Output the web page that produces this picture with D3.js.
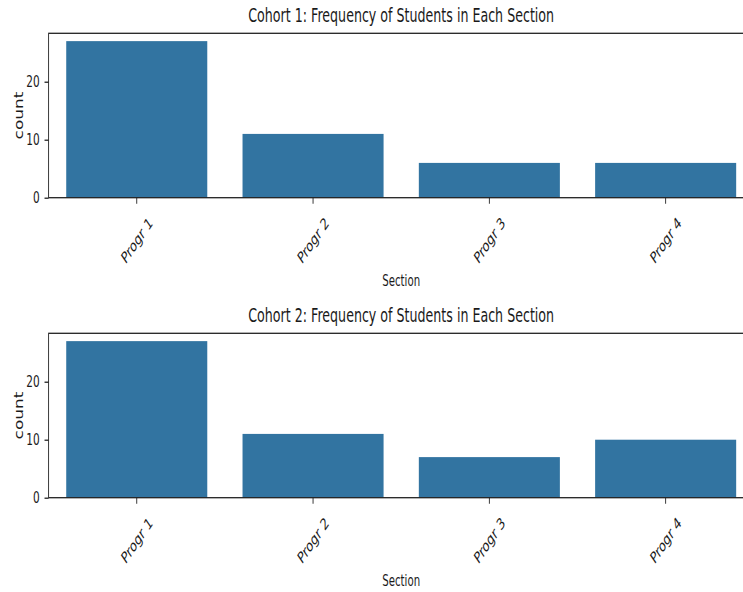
<!DOCTYPE html>
<html>
<head>
<meta charset="utf-8">
<script src="https://cdn.jsdelivr.net/npm/d3@7"></script>
<style>
  html, body { margin: 0; padding: 0; background: #ffffff; }
  svg { display: block; }
  text { font-family: "DejaVu Sans", sans-serif; fill: #1a1a1a; }
</style>
</head>
<body>
<div id="chart"></div>
<script>
// Student counts per programming section, one array per cohort
const sections = ["Progr 1", "Progr 2", "Progr 3", "Progr 4"];
const cohort1Counts = [27, 11, 6, 6];
const cohort2Counts = [27, 11, 7, 10];
const yTicks = [0, 10, 20];
const titles = [
  "Cohort 1: Frequency of Students in Each Section",
  "Cohort 2: Frequency of Students in Each Section"
];

const panels = [
  { title: titles[0], counts: cohort1Counts },
  { title: titles[1], counts: cohort2Counts }
];

// The figure is drawn in a wider coordinate space and squeezed horizontally
const outW = 743, outH = 592;
const squeeze = 0.68;
const W = outW / squeeze;

const svg = d3.select("#chart").append("svg")
  .attr("width", outW)
  .attr("height", outH)
  .attr("viewBox", `0 0 ${W} ${outH}`)
  .attr("preserveAspectRatio", "none");

const left = 48.6 / squeeze, right = 753.8 / squeeze;
const panelTop = [33.3, 333.3];
const panelH = 164.4;
const barColor = "#3274a1";

const x = d3.scaleBand()
  .domain(sections)
  .range([left, right])
  .paddingInner(0.2)
  .paddingOuter(0.1);

panels.forEach((p, i) => {
  const top = panelTop[i], bottom = top + panelH;
  const yMax = d3.max(p.counts) * 1.05;
  const y = d3.scaleLinear().domain([0, yMax]).range([bottom, top]);
  const g = svg.append("g");

  // bars
  g.selectAll("rect.bar").data(sections).join("rect")
    .attr("class", "bar")
    .attr("x", d => x(d))
    .attr("width", x.bandwidth())
    .attr("y", (d, j) => y(p.counts[j]))
    .attr("height", (d, j) => y(0) - y(p.counts[j]))
    .attr("fill", barColor);

  // y axis
  const ya = g.append("g")
    .attr("transform", `translate(${left},0)`)
    .call(d3.axisLeft(y).tickValues(yTicks).tickSize(6).tickPadding(7));
  ya.select(".domain").remove();
  ya.selectAll(".tick line").attr("stroke", "#222").attr("stroke-width", 1.3);
  ya.selectAll(".tick text")
    .style("font-family", "DejaVu Sans, sans-serif")
    .style("font-size", "15.5px")
    .attr("fill", "#1a1a1a");

  // x axis
  const xa = g.append("g")
    .attr("transform", `translate(0,${bottom})`)
    .call(d3.axisBottom(x).tickSize(6).tickSizeOuter(0));
  xa.select(".domain").remove();
  xa.selectAll(".tick line").attr("stroke", "#222").attr("stroke-width", 1.3);
  xa.selectAll(".tick text")
    .style("font-family", "DejaVu Sans, sans-serif")
    .style("font-size", "16px")
    .attr("fill", "#1a1a1a")
    .attr("y", 0)
    .attr("dy", null)
    .attr("text-anchor", "middle")
    .attr("dominant-baseline", "central")
    .attr("transform", "translate(0,42.5) rotate(-45)");

  // spines
  g.append("rect")
    .attr("x", left).attr("y", top)
    .attr("width", right - left).attr("height", panelH)
    .attr("fill", "none")
    .attr("stroke", "#222")
    .attr("stroke-width", 1.3);

  // title
  g.append("text")
    .attr("x", (left + right) / 2)
    .attr("y", top - 11)
    .attr("text-anchor", "middle")
    .style("font-size", "18.6px")
    .text(p.title);

  // axis labels
  g.append("text")
    .attr("x", (left + right) / 2)
    .attr("y", bottom + 88.5)
    .attr("text-anchor", "middle")
    .style("font-size", "15px")
    .text("Section");

  g.append("text")
    .attr("transform", `translate(${23 / squeeze},${(top + bottom) / 2}) rotate(-90)`)
    .attr("text-anchor", "middle")
    .style("font-size", "17px")
    .text("count");
});
</script>
</body>
</html>
